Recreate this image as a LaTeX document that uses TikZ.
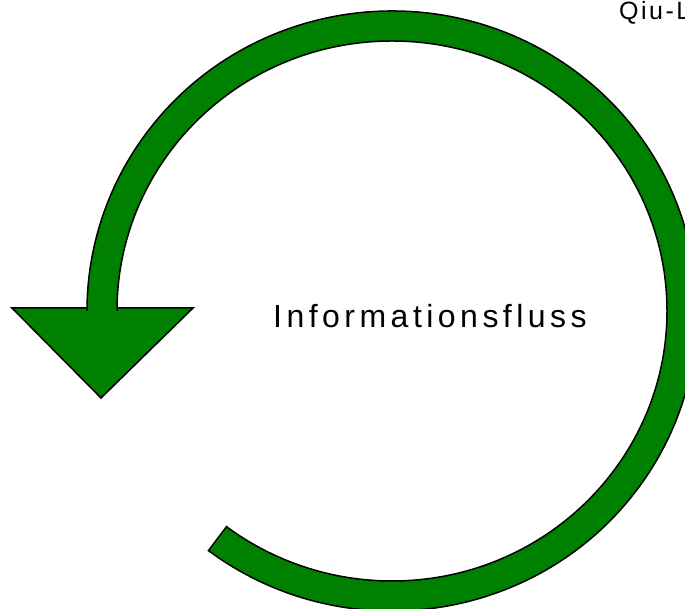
\documentclass[tikz,border=0pt]{standalone}
\usepackage{fontspec}
\usetikzlibrary{calc}
\setmainfont{Liberation Sans}
\newfontfamily\spacedfont[LetterSpace=14]{Liberation Sans}
\newfontfamily\qiufont[LetterSpace=10]{Liberation Sans}
\definecolor{arrowgreen}{HTML}{008000}
\begin{document}
\begin{tikzpicture}[x=1pt,y=1pt,
  ringarrow/.style={fill=arrowgreen,draw=black,line width=1.5pt,line join=miter},
  label/.style={inner sep=0pt,anchor=base west}]
\useasboundingbox (0,0) rectangle (685,609);
% circular arrow, centre (392,298)
\draw[ringarrow]
  ($(392,298)+(-127:305 and 300)$) arc[start angle=-127,end angle=180,x radius=305,y radius=300]
  -- (87,301) -- (12,301) -- (101,211) -- (193,301) -- (117,301) -- (117,298)
  arc[start angle=180,end angle=-127,x radius=275,y radius=270] -- cycle;
\node[label,font=\spacedfont\fontsize{32}{36}\selectfont] (title) at (273,281) {Informationsfluss};
\node[label,font=\qiufont\fontsize{25}{29}\selectfont] (qiu) at (619,589) {Qiu-L};
\end{tikzpicture}
\end{document}
